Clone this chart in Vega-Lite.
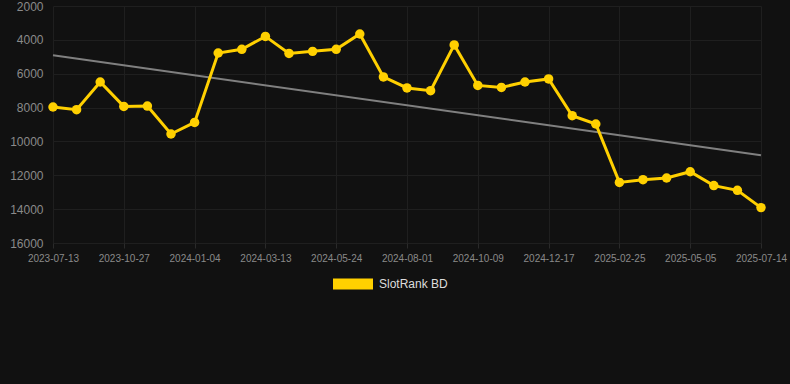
{
  "$schema": "https://vega.github.io/schema/vega-lite/v6.json",
  "width": 708,
  "height": 237,
  "autosize": {"type": "none"},
  "padding": {"left": 53, "top": 6, "right": 29, "bottom": 141},
  "background": "#111111",
  "config": {
    "view": {"stroke": null},
    "font": "Liberation Sans",
    "axis": {"gridColor": "#1f1f1f", "gridWidth": 1, "domain": false, "labelFont": "Liberation Sans"}
  },
  "data": {
    "values": [
      {"date": "2023-07-13", "rank": 7966},
      {"date": "2023-08-17", "rank": 8125},
      {"date": "2023-09-22", "rank": 6490},
      {"date": "2023-10-27", "rank": 7930},
      {"date": "2023-11-19", "rank": 7910},
      {"date": "2023-12-12", "rank": 9560},
      {"date": "2024-01-04", "rank": 8875},
      {"date": "2024-01-27", "rank": 4776},
      {"date": "2024-02-19", "rank": 4560},
      {"date": "2024-03-13", "rank": 3796},
      {"date": "2024-04-06", "rank": 4800},
      {"date": "2024-04-30", "rank": 4680},
      {"date": "2024-05-24", "rank": 4560},
      {"date": "2024-06-16", "rank": 3654},
      {"date": "2024-07-09", "rank": 6190},
      {"date": "2024-08-01", "rank": 6840},
      {"date": "2024-08-24", "rank": 7000},
      {"date": "2024-09-16", "rank": 4300},
      {"date": "2024-10-09", "rank": 6690},
      {"date": "2024-11-01", "rank": 6810},
      {"date": "2024-11-24", "rank": 6490},
      {"date": "2024-12-17", "rank": 6310},
      {"date": "2025-01-09", "rank": 8480},
      {"date": "2025-02-01", "rank": 8970},
      {"date": "2025-02-25", "rank": 12420},
      {"date": "2025-03-20", "rank": 12260},
      {"date": "2025-04-12", "rank": 12160},
      {"date": "2025-05-05", "rank": 11790},
      {"date": "2025-05-28", "rank": 12610},
      {"date": "2025-06-20", "rank": 12890},
      {"date": "2025-07-14", "rank": 13910}
    ]
  },
  "encoding": {
    "y": {
      "field": "rank",
      "type": "quantitative",
      "scale": {"domain": [2000, 16000], "reverse": true, "nice": false, "zero": false},
      "axis": {
        "title": null,
        "values": [2000, 4000, 6000, 8000, 10000, 12000, 14000, 16000],
        "format": "d",
        "ticks": false,
        "labelPadding": 10,
        "labelFontSize": 12,
        "labelColor": "#8a8a8a",
        "grid": true
      }
    }
  },
  "layer": [
    {
      "transform": [
        {"window": [{"op": "row_number", "as": "idx"}]},
        {"regression": "rank", "on": "idx"}
      ],
      "mark": {"type": "line", "color": "#808080", "strokeWidth": 2},
      "encoding": {
        "x": {
          "field": "idx",
          "type": "quantitative",
          "scale": {"domain": [1, 31], "nice": false, "zero": false},
          "axis": null
        }
      }
    },
    {
      "mark": {"type": "line", "strokeWidth": 3},
      "encoding": {
        "x": {
          "field": "date",
          "type": "ordinal",
          "sort": null,
          "scale": {"type": "point", "padding": 0},
          "axis": {
            "title": null,
            "labelAngle": 0,
            "values": ["2023-07-13", "2023-10-27", "2024-01-04", "2024-03-13", "2024-05-24", "2024-08-01", "2024-10-09", "2024-12-17", "2025-02-25", "2025-05-05", "2025-07-14"],
            "grid": true,
            "ticks": true,
            "tickSize": 5,
            "tickColor": "#2a2a2a",
            "labelPadding": 5,
            "labelFontSize": 10,
            "labelColor": "#8a8a8a"
          }
        },
        "color": {
          "datum": "SlotRank BD",
          "type": "nominal",
          "scale": {"range": ["#FFD000"]},
          "legend": {
            "title": null,
            "orient": "none",
            "legendX": 280,
            "legendY": 258,
            "symbolType": "M-1,-0.275L1,-0.275L1,0.275L-1,0.275Z",
            "symbolSize": 1600,
            "labelFontSize": 12,
            "labelColor": "#dddddd",
            "labelFont": "Liberation Sans",
            "labelOffset": 6,
            "encode": {
              "symbols": {"update": {"fill": {"value": "#FFD000"}, "stroke": {"value": "#FFD000"}, "strokeWidth": {"value": 0}, "opacity": {"value": 1}}}
            }
          }
        }
      }
    },
    {
      "mark": {"type": "point", "filled": true, "size": 90, "opacity": 1, "color": "#FFD000"},
      "encoding": {
        "x": {"field": "date", "type": "ordinal", "sort": null, "scale": {"type": "point", "padding": 0}, "axis": null}
      }
    }
  ],
  "resolve": {"scale": {"x": "independent"}}
}
